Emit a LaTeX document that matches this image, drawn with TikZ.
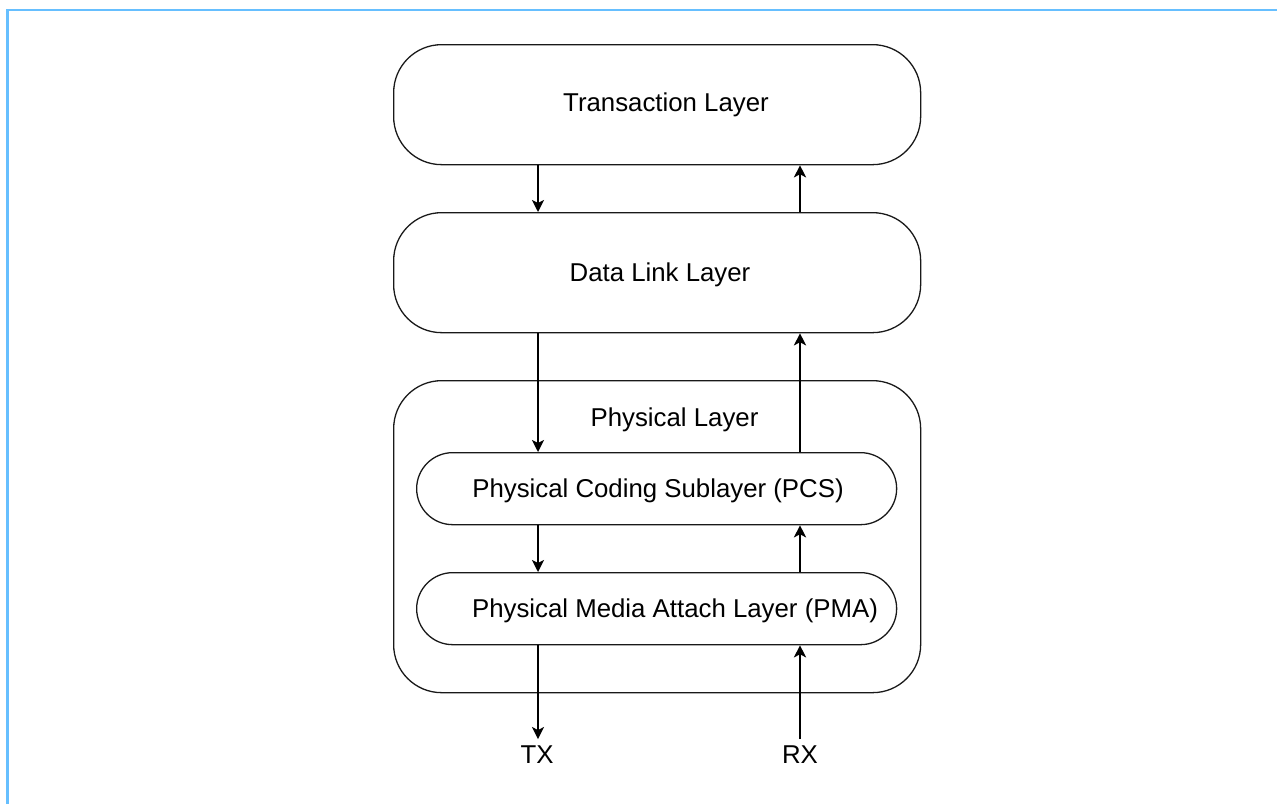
\documentclass[tikz,border=0pt]{standalone}
\usepackage{fontspec}
\setmainfont{Liberation Sans}
\usetikzlibrary{arrows.meta}
\definecolor{frameblue}{HTML}{66BFFF}
\begin{document}
\begin{tikzpicture}[x=1pt,y=-1pt,
  layerbox/.style={draw=black!90,line width=1.3pt,rectangle,rounded corners=48pt,inner sep=0pt,
    minimum width=527pt,anchor=north west},
  subbox/.style={draw=black!90,line width=1.3pt,rectangle,rounded corners=36pt,inner sep=0pt,
    minimum width=480pt,minimum height=72pt,anchor=north west},
  lbl/.style={inner sep=0pt,anchor=base,font=\fontsize{25.8}{31}\selectfont},
  io/.style={inner sep=6pt,anchor=base,font=\fontsize{25.8}{31}\selectfont},
  arr/.style={line width=2.1pt,-{Stealth[length=12pt,width=12pt,inset=3pt]}}]
\useasboundingbox (0,0) rectangle (1277,804);
% frame lines (top and left only)
\draw[frameblue,line width=2.5pt] (1277,10) -- (7.7,10) -- (7.7,804);
% boxes
\node[layerbox,minimum height=120pt] (tl) at (393,44) {};
\node[layerbox,minimum height=120pt] (dl) at (393,212) {};
\node[layerbox,minimum height=312pt] (pl) at (393,380) {};
\node[subbox] (pcs) at (416,452) {};
\node[subbox] (pma) at (416,572) {};
% labels
\node[lbl] (tlt) at (666,111) {Transaction Layer};
\node[lbl] (dlt) at (660,281) {Data Link Layer};
\node[lbl] (plt) at (674.5,426.7) {Physical Layer};
\node[lbl] (pcst) at (658,497.5) {Physical Coding Sublayer (PCS)};
\node[lbl] (pmat) at (675,617.5) {Physical Media Attach Layer (PMA)};
\node[io] (tx) at (537,763) {TX};
\node[io] (rx) at (800,763) {RX};
% columns
\coordinate (lx) at (538,0);
\coordinate (rx0) at (800,0);
% arrows down
\draw[arr] (tl.south -| lx) -- (dl.north -| lx);
\draw[arr] (dl.south -| lx) -- (pcs.north -| lx);
\draw[arr] (pcs.south -| lx) -- (pma.north -| lx);
\draw[arr] (pma.south -| lx) -- (tx.north -| lx);
% arrows up
\draw[arr] (dl.north -| rx0) -- (tl.south -| rx0);
\draw[arr] (pcs.north -| rx0) -- (dl.south -| rx0);
\draw[arr] (pma.north -| rx0) -- (pcs.south -| rx0);
\draw[arr] (rx.north -| rx0) -- (pma.south -| rx0);
\end{tikzpicture}
\end{document}
